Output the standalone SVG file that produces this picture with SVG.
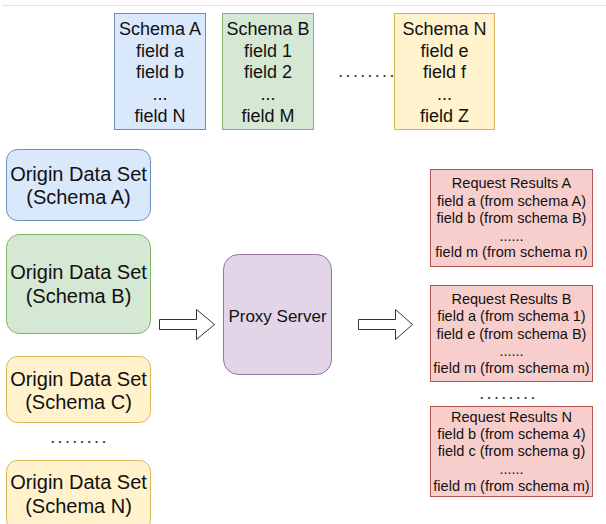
<svg xmlns="http://www.w3.org/2000/svg" width="606" height="524" viewBox="0 0 606 524">
  <defs>
    <style>
      text { font-family: "Liberation Sans", Arial, sans-serif; fill: #111; text-anchor: middle; }
      .sch { font-size: 18px; }
      .org { font-size: 20px; }
      .prx { font-size: 17px; }
      .req { font-size: 14.5px; }
      .dots { font-size: 18px; text-anchor: start; letter-spacing: 2.3px; fill: #333; }
      .blue { fill: #dae8fc; stroke: #6c8ebf; }
      .green { fill: #d5e8d4; stroke: #82b366; }
      .yellow { fill: #fff2cc; stroke: #d6b656; }
      .purple { fill: #e1d5e7; stroke: #9673a6; }
      .red { fill: #f8cecc; stroke: #b85450; }
      .arrow { fill: #ffffff; stroke: #333; stroke-width: 1; }
    </style>
  </defs>

  <rect width="606" height="524" fill="#ffffff"/>
  <line x1="2" y1="5.5" x2="606" y2="5.5" stroke="#e4e4da" stroke-width="1"/>

  <!-- schema cards -->
  <g id="schema-a">
    <rect class="blue" x="114.5" y="13.5" width="91" height="116"/>
    <text class="sch" x="160" y="34.5">Schema A</text>
    <text class="sch" x="160" y="56.5">field a</text>
    <text class="sch" x="160" y="78.3">field b</text>
    <text class="sch" x="160" y="100">...</text>
    <text class="sch" x="160" y="121.7">field N</text>
  </g>
  <g id="schema-b">
    <rect class="green" x="222.5" y="13.5" width="91" height="116"/>
    <text class="sch" x="268" y="34.5">Schema B</text>
    <text class="sch" x="268" y="56.5">field 1</text>
    <text class="sch" x="268" y="78.3">field 2</text>
    <text class="sch" x="268" y="100">...</text>
    <text class="sch" x="268" y="121.7">field M</text>
  </g>
  <text class="dots" x="338.3" y="77">........</text>
  <g id="schema-n">
    <rect class="yellow" x="394.5" y="13.5" width="100" height="116"/>
    <text class="sch" x="444.5" y="34.5">Schema N</text>
    <text class="sch" x="444.5" y="56.5">field e</text>
    <text class="sch" x="444.5" y="78.3">field f</text>
    <text class="sch" x="444.5" y="100">...</text>
    <text class="sch" x="444.5" y="121.7">field Z</text>
  </g>

  <!-- origin data sets -->
  <g id="origin-a">
    <rect class="blue" x="6.5" y="149.5" width="144" height="71" rx="11"/>
    <text class="org" x="78.5" y="180.5">Origin Data Set</text>
    <text class="org" x="78.5" y="204">(Schema A)</text>
  </g>
  <g id="origin-b">
    <rect class="green" x="6.5" y="234.5" width="144" height="99" rx="13"/>
    <text class="org" x="78.5" y="279">Origin Data Set</text>
    <text class="org" x="78.5" y="303">(Schema B)</text>
  </g>
  <g id="origin-c">
    <rect class="yellow" x="6.5" y="356.5" width="144" height="66" rx="11"/>
    <text class="org" x="78.5" y="385.7">Origin Data Set</text>
    <text class="org" x="78.5" y="409.3">(Schema C)</text>
  </g>
  <text class="dots" x="50.3" y="443">........</text>
  <g id="origin-n">
    <rect class="yellow" x="6.5" y="460.5" width="144" height="70" rx="11"/>
    <text class="org" x="78.5" y="489.3">Origin Data Set</text>
    <text class="org" x="78.5" y="512.7">(Schema N)</text>
  </g>

  <!-- proxy -->
  <g id="proxy-server">
    <rect class="purple" x="223.5" y="254.5" width="108" height="120" rx="15"/>
    <text class="prx" x="277.5" y="321.7">Proxy Server</text>
  </g>

  <!-- request results -->
  <g id="results-a">
    <rect class="red" x="430.5" y="169.5" width="162" height="97"/>
    <text class="req" x="511.5" y="188.3">Request Results A</text>
    <text class="req" x="511.5" y="205.7">field a (from schema A)</text>
    <text class="req" x="511.5" y="223.1">field b (from schema B)</text>
    <text class="req" x="511.5" y="240.5">......</text>
    <text class="req" x="511.5" y="257.3">field m (from schema n)</text>
  </g>
  <g id="results-b">
    <rect class="red" x="430.5" y="285.5" width="162" height="96"/>
    <text class="req" x="511.5" y="304">Request Results B</text>
    <text class="req" x="511.5" y="321.3">field a (from schema 1)</text>
    <text class="req" x="511.5" y="338.7">field e (from schema B)</text>
    <text class="req" x="511.5" y="356">......</text>
    <text class="req" x="511.5" y="373.3">field m (from schema m)</text>
  </g>
  <text class="dots" x="479.3" y="399">........</text>
  <g id="results-n">
    <rect class="red" x="430.5" y="406.5" width="162" height="90"/>
    <text class="req" x="511.5" y="421.7">Request Results N</text>
    <text class="req" x="511.5" y="439">field b (from schema 4)</text>
    <text class="req" x="511.5" y="456.3">field c (from schema g)</text>
    <text class="req" x="511.5" y="473.7">......</text>
    <text class="req" x="511.5" y="491">field m (from schema m)</text>
  </g>

  <!-- flow arrows -->
  <g id="connectors">
    <polygon class="arrow" points="159.5,319.5 196.5,319.5 196.5,309.5 214.5,324.5 196.5,339.5 196.5,329.5 159.5,329.5"/>
    <polygon class="arrow" points="358.5,319.5 395.5,319.5 395.5,309.5 412.5,324.5 395.5,339.5 395.5,329.5 358.5,329.5"/>
  </g>
</svg>
